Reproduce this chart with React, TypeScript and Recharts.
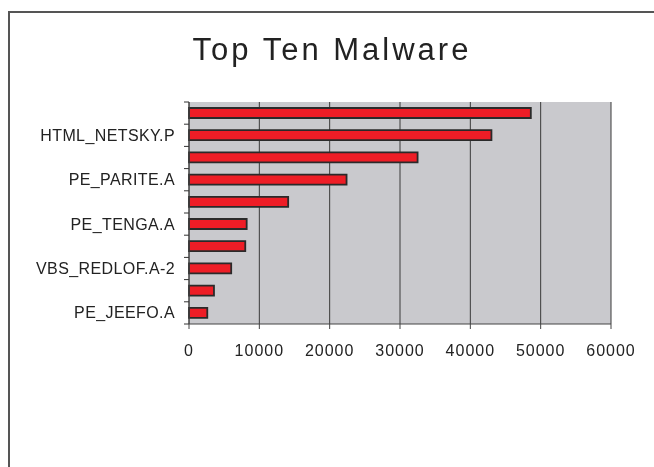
import { BarChart, Bar, XAxis, YAxis, CartesianGrid } from "recharts"

// names of the unlabelled rows are not shown in the picture
const categories = ["", "HTML_NETSKY.P", "", "PE_PARITE.A", "", "PE_TENGA.A", "", "VBS_REDLOF.A-2", "", "PE_JEEFO.A"]
const counts = [48600, 43000, 32500, 22400, 14100, 8200, 8000, 6000, 3550, 2600]
const xTicks = [0, 10000, 20000, 30000, 40000, 50000, 60000]

const data = categories.map((name, i) => ({ name, count: counts[i] }))

const FONT = "'Liberation Sans', Arial, sans-serif"
const BAND = 222 / categories.length

function CategoryTick(props: any) {
  const { x, y, payload, index } = props
  const i = payload?.index ?? index
  const axisX = x + 14
  return <g>
      <line x1={axisX - 5} x2={axisX} y1={y - BAND / 2} y2={y - BAND / 2} stroke="#333" />
      {i === categories.length - 1 && <line x1={axisX - 5} x2={axisX} y1={y + BAND / 2} y2={y + BAND / 2} stroke="#333" />}
      <text x={x} y={y} dy={5.5} textAnchor="end" fontSize={16} letterSpacing={0.4} fill="#222" fontFamily={FONT}>
        {payload.value}
      </text>
    </g>
}

export default function App() {
  // fixed so the frame can run to the window edge without scrollbars
  return <div style={{ position: "fixed", left: 8, top: 11, width: 646, height: 456, borderLeft: "2px solid #555", borderTop: "2px solid #555", boxSizing: "border-box" }}>
      <div style={{ position: "absolute", left: 0, top: 21, width: 644, textAlign: "center", fontFamily: FONT, fontSize: 31, lineHeight: 1, letterSpacing: 3, color: "#222" }}>
        Top Ten Malware
      </div>
      <BarChart width={644} height={450} data={data} layout="vertical" barSize={10}
        margin={{ top: 89, right: 43, bottom: 99, left: 0 }}>
        <CartesianGrid horizontal={false} stroke="#3a3a3a" fill="#c9c9cd" fillOpacity={1} />
        <XAxis type="number" domain={[0, 60000]} ticks={xTicks} interval={0} height={40}
          tickSize={5} tickMargin={16} stroke="#444"
          tick={{ fontSize: 16, fill: "#222", fontFamily: FONT, letterSpacing: 1 }} />
        <XAxis xAxisId="top" orientation="top" type="number" domain={[0, 60000]} height={0}
          tick={false} tickLine={false} axisLine={{ stroke: "#a0a0a4", strokeWidth: 2 }} />
        <YAxis type="category" dataKey="name" width={179} interval={0} tickLine={false}
          tickSize={5} tickMargin={9} stroke="#444" tick={<CategoryTick />} />
        <YAxis yAxisId="right" orientation="right" type="category" dataKey="name" width={0}
          tick={false} tickLine={false} axisLine={{ stroke: "#a0a0a4", strokeWidth: 2 }} />
        <Bar dataKey="count" fill="#ee1d26" stroke="#2a2a2a" strokeWidth={1.8} isAnimationActive={false} />
      </BarChart>
    </div>
}
